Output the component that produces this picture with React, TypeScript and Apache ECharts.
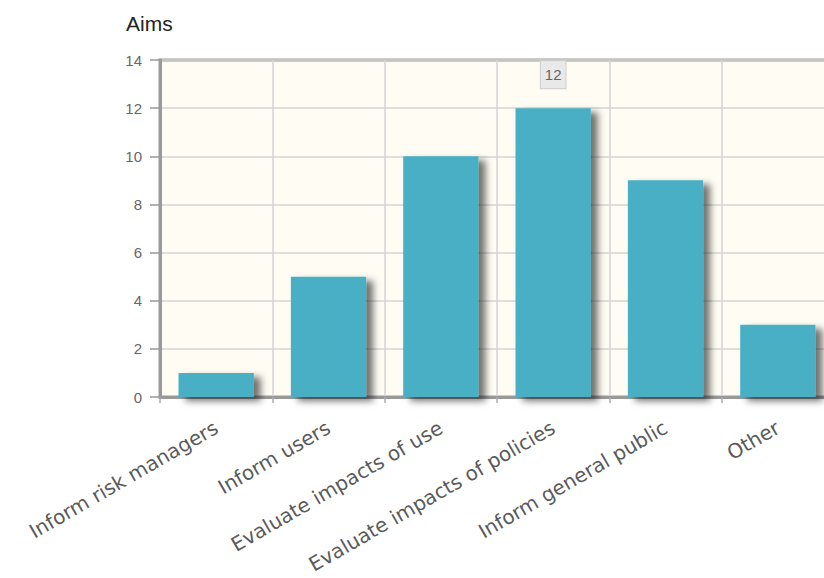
import React, { useEffect, useRef } from "react";
import * as echarts from "echarts";

const categories = [
  "Inform risk managers",
  "Inform users",
  "Evaluate impacts of use",
  "Evaluate impacts of policies",
  "Inform general public",
  "Other",
];
const counts = [1, 5, 10, 12, 9, 3];
const labelledIndex = 3;

export default function App() {
  const ref = useRef<HTMLDivElement>(null);

  useEffect(() => {
    if (!ref.current) return;
    const chart = echarts.init(ref.current, undefined, { renderer: "svg" });
    chart.setOption({
      animation: false,
      backgroundColor: "#ffffff",
      title: {
        text: "Aims",
        left: 121,
        top: 8,
        textStyle: {
          fontFamily: "Liberation Sans, Arial, sans-serif",
          fontSize: 21,
          fontWeight: "normal",
          color: "#222",
        },
      },
      grid: {
        left: 160,
        top: 60,
        right: 0,
        bottom: 181,
        outerBoundsMode: "none",
        containLabel: false,
        show: true,
        backgroundColor: "#fffcf3",
        borderColor: "#999",
        borderWidth: 3,
      },
      xAxis: {
        type: "category",
        data: categories,
        axisLine: { lineStyle: { color: "#999", width: 3 } },
        axisTick: { show: true, length: 6, lineStyle: { color: "#aaa", width: 1.5 } },
        splitLine: { show: true, lineStyle: { color: "#d4d4d4", width: 1.5 } },
        axisLabel: {
          rotate: 30,
          margin: 29,
          interval: 0,
          fontFamily: "DejaVu Sans, Verdana, sans-serif",
          fontSize: 20,
          color: "#5a5a5a",
        },
      },
      yAxis: {
        type: "value",
        min: 0,
        max: 14,
        interval: 2,
        axisLine: { show: true, lineStyle: { color: "#999", width: 3 } },
        axisTick: { show: true, length: 10, lineStyle: { color: "#999", width: 1.5 } },
        splitLine: { show: true, lineStyle: { color: "#d4d4d4", width: 1.5 } },
        axisLabel: {
          margin: 18,
          fontFamily: "Liberation Sans, Arial, sans-serif",
          fontSize: 15,
          color: "#666",
        },
      },
      series: [
        {
          type: "bar",
          barWidth: "67%",
          data: counts.map((v, i) =>
            i === labelledIndex
              ? {
                  value: v,
                  label: {
                    show: true,
                    position: "top",
                    distance: 20,
                    fontFamily: "Liberation Sans, Arial, sans-serif",
                    fontSize: 15,
                    color: "#666",
                    backgroundColor: "#e9e9e9",
                    borderColor: "#cfcfcf",
                    borderWidth: 1,
                    padding: [6, 4, 6, 4],
                  },
                }
              : v
          ),
          itemStyle: {
            color: "#4aafc4",
            shadowColor: "rgba(0,0,0,0.55)",
            shadowBlur: 7,
            shadowOffsetX: 7,
            shadowOffsetY: 4,
          },
        },
      ],
    });
    return () => chart.dispose();
  }, []);

  return (
    <div
      style={{
        position: "fixed",
        left: 0,
        top: 0,
        width: 824,
        height: 578,
        overflow: "hidden",
      }}
    >
      <div ref={ref} style={{ width: 834, height: 578 }} />
    </div>
  );
}
